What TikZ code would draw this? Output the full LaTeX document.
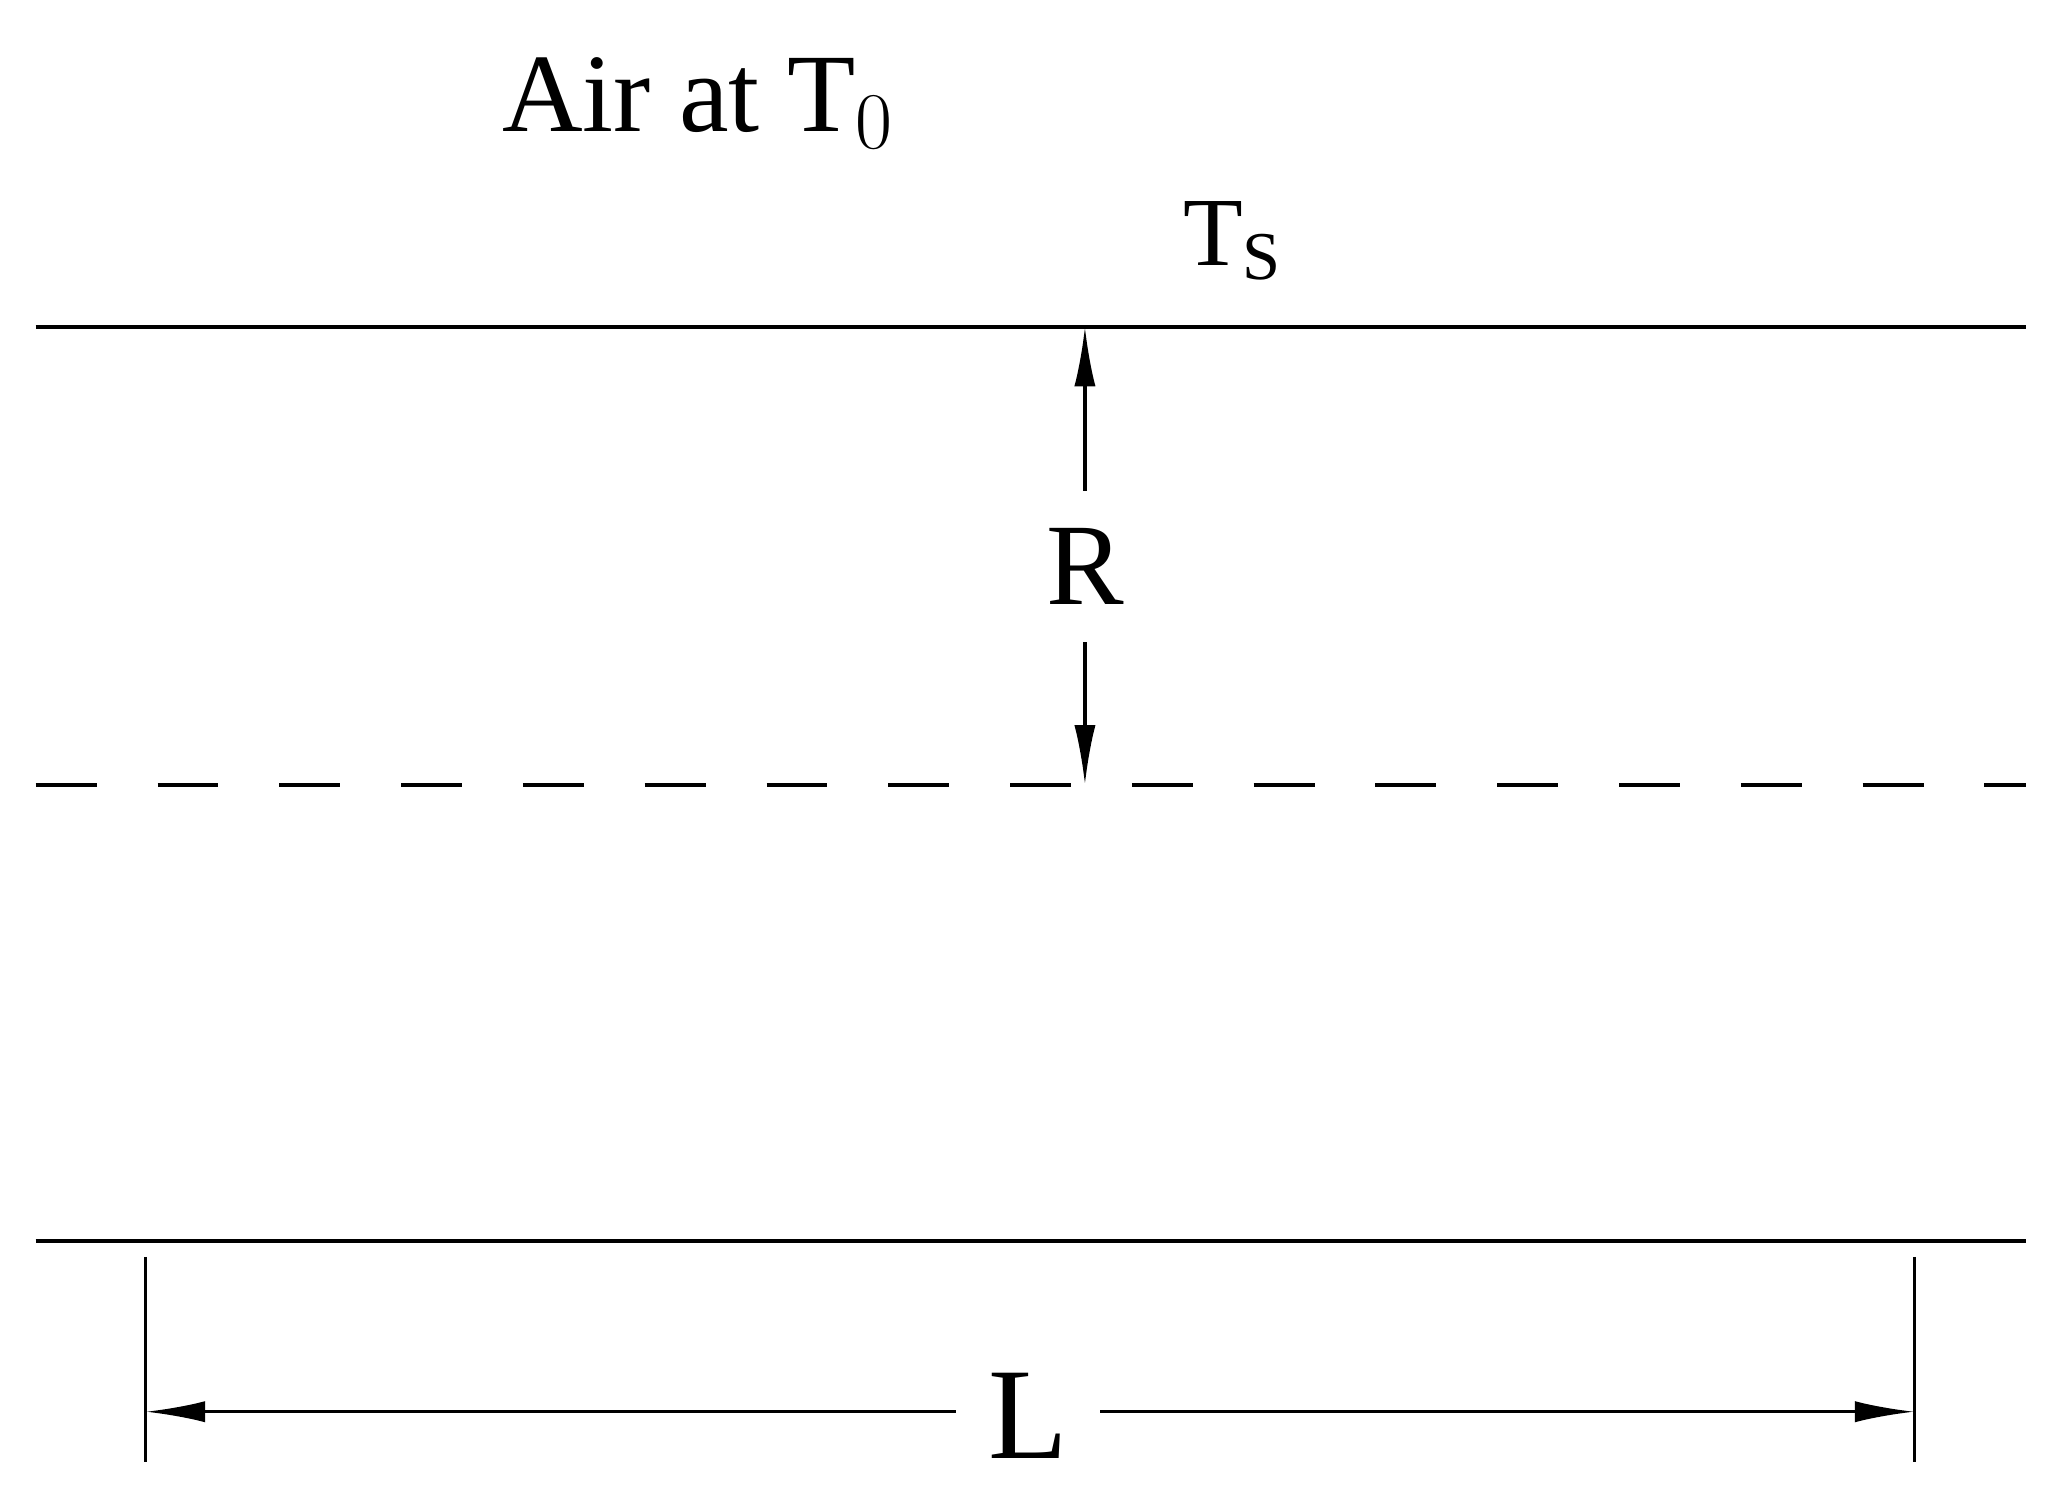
\documentclass[tikz,border=0pt]{standalone}
\usepackage{fontspec}
\setmainfont{Liberation Serif}
\usetikzlibrary{arrows.meta}
\begin{document}
\begin{tikzpicture}[x=0.01cm,y=-0.01cm,
  ln/.style={line width=0.85pt},
  dim/.style={line width=0.7pt,{Latex[length=0.45cm,width=0.16cm]}-{Latex[length=0.45cm,width=0.16cm]}},
  lbl/.style={inner sep=2pt,fill=white}]
\useasboundingbox (0,0) rectangle (1560,1131);
\coordinate (tl) at (27,247); \coordinate (tr) at (1531,247);
\coordinate (bl) at (27,938); \coordinate (br) at (1531,938);
\coordinate (ml) at (27,593); \coordinate (mr) at (1531,593);
\draw[ln] (tl) -- (tr);
\draw[ln] (bl) -- (br);
\draw[ln,dash pattern=on 0.46cm off 0.46cm] (ml) -- (mr);
\coordinate (rt) at (820,247); \coordinate (rb) at (820,593);
\draw[dim] (rt) -- (rb);
\node[lbl,inner ysep=8pt,font=\fontsize{25}{28}\selectfont] (R) at (820,428) {R};
\coordinate (t1a) at (110,950); \coordinate (t1b) at (110,1105);
\coordinate (t2a) at (1447,950); \coordinate (t2b) at (1447,1105);
\draw[line width=0.7pt] (t1a) -- (t1b);
\draw[line width=0.7pt] (t2a) -- (t2b);
\coordinate (la) at (110,1067); \coordinate (lb) at (1447,1067);
\draw[dim] (la) -- (lb);
\node[lbl,inner xsep=7pt,font=\fontsize{28}{31}\selectfont] (L) at (777,1070) {L};
\node[font=\fontsize{24}{27}\selectfont] (air) at (528,78) {Air at T$_0$};
\node[font=\fontsize{21}{24}\selectfont] (ts) at (932,182) {T$_\mathrm{S}$};
\end{tikzpicture}
\end{document}
